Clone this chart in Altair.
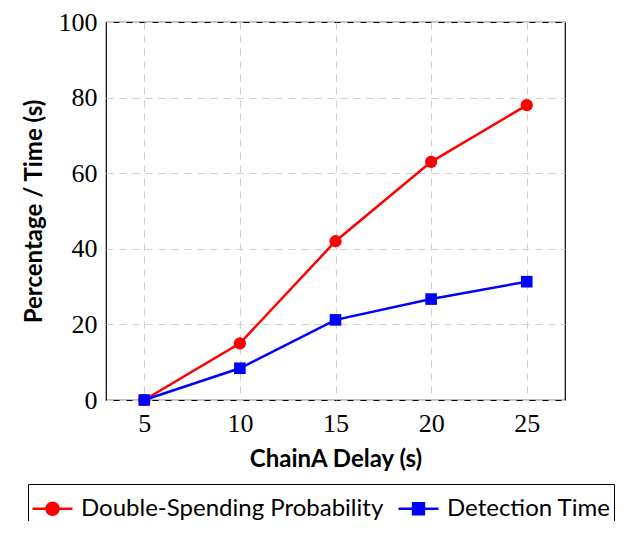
import altair as alt
import pandas as pd

delay = [5, 10, 15, 20, 25]
dsp = [0, 15, 42, 63, 78]
det = [0, 8.4, 21.2, 26.7, 31.3]
series_names = ["Double-Spending Probability", "Detection Time"]
colors = ["#ff0000", "#0000ff"]
marker_shapes = ["circle", "square"]
marker_sizes = [150, 135]
legend_shapes = [
    "M-1,0L1,0M0.3,0A0.3,0.3,0,1,1,-0.3,0A0.3,0.3,0,1,1,0.3,0Z",
    "M-1,0L1,0M-0.27,-0.27L0.27,-0.27L0.27,0.27L-0.27,0.27Z",
]
x_ticks = [5, 10, 15, 20, 25]
y_ticks = [0, 20, 40, 60, 80, 100]

df = pd.DataFrame({
    "delay": delay * 2,
    "value": dsp + det,
    "series": [series_names[0]] * len(delay) + [series_names[1]] * len(delay),
})

x = alt.X("delay:Q", scale=alt.Scale(domain=[3, 27], nice=False, zero=False),
          axis=alt.Axis(values=x_ticks, title="ChainA Delay (s)"))
y = alt.Y("value:Q", scale=alt.Scale(domain=[0, 100], nice=False),
          axis=alt.Axis(values=y_ticks, title="Percentage / Time (s)"))
color = alt.Color("series:N", scale=alt.Scale(domain=series_names, range=colors), legend=None)

lines = alt.Chart(df).mark_line(strokeWidth=2.5).encode(x=x, y=y, color=color)

points = alt.Chart(df).mark_point(filled=True, opacity=1).encode(
    x=x, y=y, color=color,
    shape=alt.Shape("series:N", scale=alt.Scale(domain=series_names, range=marker_shapes), legend=None),
    size=alt.Size("series:N", scale=alt.Scale(domain=series_names, range=marker_sizes), legend=None),
)

entry_color = "datum.index === 0 ? '%s' : '%s'" % (colors[0], colors[1])

common = dict(
    orient="none", legendX=-78, legendY=462, direction="horizontal", columns=2,
    title=None, padding=3, symbolSize=1600, symbolStrokeWidth=2.5,
    symbolOpacity=1, symbolFillColor={"expr": entry_color}, symbolStrokeColor={"expr": entry_color},
    labelFont="Lato", labelFontSize=24, labelLimit=0, labelOffset=7,
    columnPadding=9, labelColor="black",
)

# legend with coloured line strokes (hollow markers) and the frame
leg_stroke = alt.Legend(strokeColor="black", **common)
# same legend again, overlaid, supplying the marker fills
leg_fill = alt.Legend(labelOpacity=0, **common)

legend_stroke_layer = alt.Chart(df).transform_filter("datum.value < 0").mark_point(
    filled=False, strokeWidth=2.5
).encode(
    x=x, y=y,
    shape=alt.Shape("series:N", scale=alt.Scale(domain=series_names, range=legend_shapes), legend=leg_stroke),
)

legend_fill_layer = alt.Chart(df).transform_filter("datum.value < 0").mark_point(
    filled=False, fill={"expr": entry_color}, strokeWidth=2.5
).encode(
    x=x, y=y,
    shape=alt.Shape("series:N", scale=alt.Scale(domain=series_names, range=legend_shapes), legend=leg_fill),
)

chart = alt.layer(lines, points, legend_stroke_layer, legend_fill_layer).resolve_scale(
    shape="independent"
).resolve_legend(
    shape="independent"
).properties(
    width=459, height=378,
    autosize=alt.AutoSizeParams(type="none"),
    padding={"left": 98, "top": 14, "right": 60, "bottom": 121},
).configure_view(
    stroke="black", strokeWidth=1.2
).configure_axis(
    labelFont="Liberation Serif", labelFontSize=26, labelColor="black",
    titleFont="Lato", titleFontSize=24, titleFontWeight="bold", titleColor="black",
    domain=False, ticks=False, gridColor="#cfcfcf", gridDash=[7, 6], gridWidth=1,
).configure_axisX(
    labelPadding=10, titlePadding=11
).configure_axisY(
    labelPadding=9, titlePadding=12
)

chart.save("out.html", embed_options={"renderer": "svg", "actions": False})
